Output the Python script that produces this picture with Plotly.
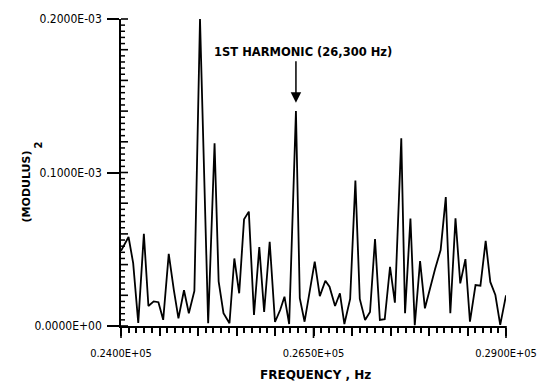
import plotly.graph_objects as go

# ---- data ----
freq_hz = [24000, 24098, 24158, 24224, 24297, 24356, 24425, 24486, 24548, 24620,
           24686, 24746, 24818, 24881, 24953, 25026, 25132, 25215, 25268, 25331,
           25409, 25472, 25535, 25598, 25660, 25727, 25796, 25859, 25931, 26000,
           26067, 26123, 26184, 26272, 26322, 26384, 26516, 26582, 26654, 26708,
           26780, 26843, 26901, 26976, 27044, 27101, 27170, 27234, 27299, 27362,
           27425, 27494, 27557, 27640, 27689, 27759, 27815, 27884, 27947, 28016,
           28079, 28151, 28218, 28277, 28344, 28406, 28473, 28532, 28604, 28668,
           28736, 28796, 28862, 28925, 28985, 29000]
# modulus squared, in units of 1e-4
modsq_e4 = [0.49, 0.58, 0.41, 0.02, 0.60, 0.13, 0.16, 0.155, 0.04, 0.47,
            0.235, 0.05, 0.233, 0.083, 0.228, 2.00, 0.018, 1.19, 0.29, 0.083,
            0.018, 0.44, 0.213, 0.695, 0.745, 0.072, 0.515, 0.091, 0.549, 0.026,
            0.104, 0.191, 0.013, 1.40, 0.182, 0.028, 0.419, 0.195, 0.295, 0.256,
            0.13, 0.213, 0.013, 0.176, 0.947, 0.176, 0.039, 0.091, 0.567, 0.039,
            0.044, 0.386, 0.152, 1.223, 0.083, 0.70, 0.005, 0.423, 0.115, 0.256,
            0.371, 0.495, 0.84, 0.083, 0.702, 0.278, 0.436, 0.028, 0.267, 0.263,
            0.554, 0.287, 0.202, 0.007, 0.18, 0.20]
modsq = [v * 1e-4 for v in modsq_e4]

x_range = [24000, 29000]
y_range = [0.0, 2e-4]
x_tickvals = [24000, 26500, 29000]
x_ticktext = ["0.2400E+05", "0.2650E+05", "0.2900E+05"]
y_tickvals = [0.0, 1e-4, 2e-4]
y_ticktext = ["0.0000E+00", "0.1000E-03", "0.2000E-03"]
harmonic_label = "1ST HARMONIC (26,300 Hz)"

X_MED_STEP, X_MIN_STEP = 500, 100          # Hz
Y_MED_STEP, Y_MIN_STEP = 2e-5, 4e-6

# x labels: only the major ticks carry text (the rest aliased to blank)
x_alias = {}
for k in range(int(round((x_range[1] - x_range[0]) / X_MED_STEP)) + 1):
    x_alias["%d" % (x_range[0] + k * X_MED_STEP)] = " "
for tv, tt in zip(x_tickvals, x_ticktext):
    x_alias["%d" % tv] = tt

# harmonic peak: largest value between 26000 and 26600 Hz
h_idx = max((i for i, f in enumerate(freq_hz) if 26000 <= f <= 26600), key=lambda i: modsq[i])

tick_font = dict(family="Liberation Sans Narrow, DejaVu Sans Condensed, Liberation Sans, Arial", size=12, color="black")
bold_font = dict(family="DejaVu Sans, Liberation Sans, Arial", size=11, color="black", weight="bold")

fig = go.Figure()
fig.add_trace(go.Scatter(x=freq_hz, y=modsq, mode="lines",
                         line=dict(color="black", width=1.8), showlegend=False, hoverinfo="skip"))


def xfrac(v):
    return (v - x_range[0]) / (x_range[1] - x_range[0])


def yfrac(v):
    return (v - y_range[0]) / (y_range[1] - y_range[0])


shapes = []
# long labelled x ticks
for tv in x_tickvals:
    shapes.append(dict(type="line", xref="paper", yref="paper", x0=xfrac(tv), x1=xfrac(tv),
                       ysizemode="pixel", yanchor=0, y0=0, y1=-12,
                       line=dict(color="black", width=1.6)))
# y-axis intermediate and minor ticks (inside)
n_y_min = int(round((y_range[1] - y_range[0]) / Y_MIN_STEP))
med_every = int(round(Y_MED_STEP / Y_MIN_STEP))
for k in range(n_y_min + 1):
    yv = yfrac(y_range[0] + k * Y_MIN_STEP)
    is_med = k % med_every == 0
    shapes.append(dict(type="line", xref="paper", yref="paper", y0=yv, y1=yv,
                       xsizemode="pixel", xanchor=0, x0=0, x1=(7 if is_med else 4),
                       line=dict(color="black", width=1.6 if is_med else 1.5)))

fig.update_layout(
    width=549, height=381,
    margin=dict(l=121, r=31, t=19, b=55),
    paper_bgcolor="white", plot_bgcolor="white",
    # x axis: intermediate (500 Hz) and minor (100 Hz) ticks from the axis itself
    xaxis=dict(range=x_range, tickmode="linear", tick0=x_range[0], dtick=X_MED_STEP,
               tickformat="d", labelalias=x_alias,
               ticks="outside", ticklen=8, tickwidth=2, tickcolor="black",
               tickfont=dict(tick_font, size=11), ticklabelstandoff=8,
               showline=True, linecolor="black", linewidth=1.6,
               showgrid=True, gridcolor="rgba(0,0,0,0)",
               minor=dict(dtick=X_MIN_STEP, tick0=x_range[0], ticks="outside", ticklen=5,
                          tickwidth=1.5, tickcolor="black")),
    yaxis=dict(range=y_range, tickmode="array", tickvals=y_tickvals, ticktext=y_ticktext,
               ticks="outside", ticklen=12, tickwidth=1.6, tickcolor="black",
               tickfont=tick_font, ticklabelstandoff=3,
               showline=True, linecolor="black", linewidth=1.6,
               showgrid=False, zeroline=False),
    shapes=shapes,
    annotations=[
        dict(text="FREQUENCY , Hz", xref="paper", yref="paper", x=0.504, y=-0.16,
             xanchor="center", yanchor="middle", showarrow=False, font=dict(bold_font, size=12)),
        dict(text="(MODULUS)", xref="paper", yref="paper", x=-0.2457, y=0.456,
             xanchor="center", yanchor="middle", textangle=-90, showarrow=False, font=bold_font),
        dict(text="2", xref="paper", yref="paper", x=-0.2155, y=0.588,
             xanchor="center", yanchor="middle", textangle=-90, showarrow=False, font=dict(bold_font, size=10)),
        dict(text=harmonic_label, xref="paper", yref="paper", x=0.473, y=0.8925,
             xanchor="center", yanchor="middle", showarrow=False, font=dict(bold_font, size=11.5)),
        dict(text="", x=freq_hz[h_idx], y=modsq[h_idx] + 0.055e-4, xref="x", yref="y",
             showarrow=True, ax=0, ay=-43, arrowhead=2, arrowsize=1.4, arrowwidth=1.5,
             arrowcolor="black", standoff=0),
    ],
)

fig.write_html("out.html")
